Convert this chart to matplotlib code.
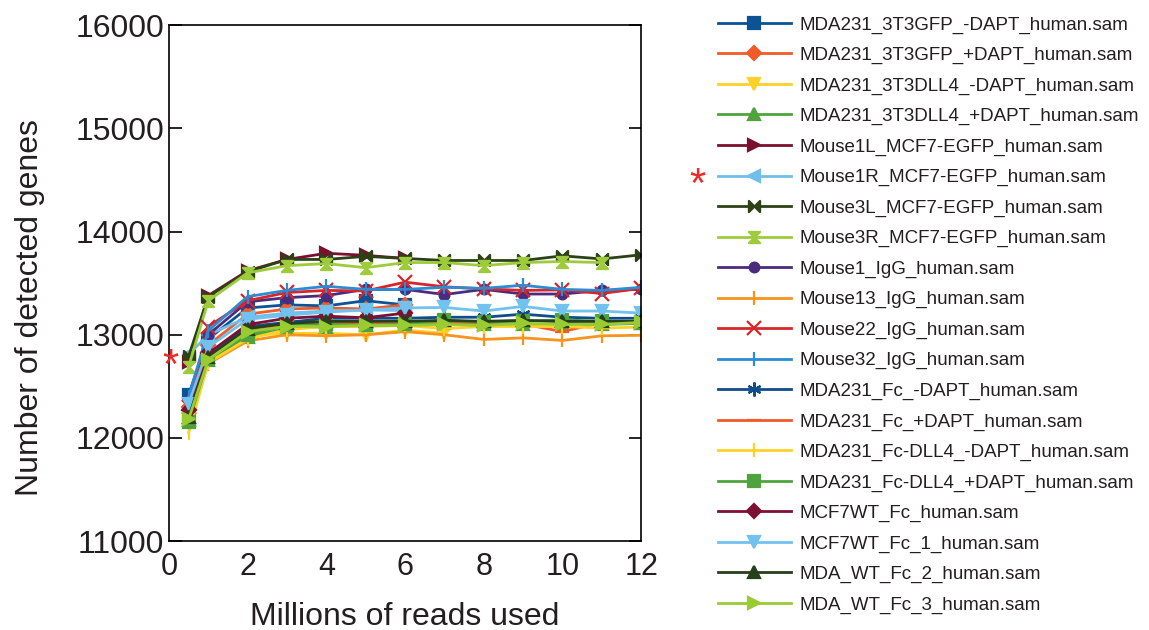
import matplotlib
matplotlib.use("Agg")
import matplotlib.pyplot as plt
from matplotlib.path import Path

plt.rcParams["font.family"] = ["Liberation Sans", "DejaVu Sans"]
TEXT = "#231f20"

# millions of reads used at each subsampling step
reads = [0.5, 1, 2, 3, 4, 5, 6, 7, 8, 9, 10, 11, 12]

sample_names = [
    "MDA231_3T3GFP_-DAPT_human.sam",
    "MDA231_3T3GFP_+DAPT_human.sam",
    "MDA231_3T3DLL4_-DAPT_human.sam",
    "MDA231_3T3DLL4_+DAPT_human.sam",
    "Mouse1L_MCF7-EGFP_human.sam",
    "Mouse1R_MCF7-EGFP_human.sam",
    "Mouse3L_MCF7-EGFP_human.sam",
    "Mouse3R_MCF7-EGFP_human.sam",
    "Mouse1_IgG_human.sam",
    "Mouse13_IgG_human.sam",
    "Mouse22_IgG_human.sam",
    "Mouse32_IgG_human.sam",
    "MDA231_Fc_-DAPT_human.sam",
    "MDA231_Fc_+DAPT_human.sam",
    "MDA231_Fc-DLL4_-DAPT_human.sam",
    "MDA231_Fc-DLL4_+DAPT_human.sam",
    "MCF7WT_Fc_human.sam",
    "MCF7WT_Fc_1_human.sam",
    "MDA_WT_Fc_2_human.sam",
    "MDA_WT_Fc_3_human.sam",
]

# detected genes per sample (shorter libraries stop early)
genes_3t3gfp_minus = [12420, 12960, 13260, 13290, 13280, 13330, 13290]
genes_3t3gfp_plus = [12300, 12900, 13200, 13250, 13260, 13250, 13290]
genes_3t3dll4_minus = [12180, 12740, 12990, 13015, 13015, 13000, 13045, 13015]
genes_3t3dll4_plus = [12170, 12760, 12980, 13060, 13080, 13090, 13090, 13110, 13100, 13100, 13110, 13100, 13110]
genes_mouse1l = [12740, 13380, 13620, 13730, 13790, 13770, 13740]
genes_mouse1r = [12810, 13000, 13170, 13210, 13230, 13240, 13235]
genes_mouse3l = [12790, 13370, 13610, 13730, 13730, 13760, 13740, 13720, 13720, 13720, 13765, 13735, 13775]
genes_mouse3r = [12690, 13330, 13600, 13670, 13690, 13650, 13700, 13700, 13670, 13700, 13710, 13700]
genes_mouse1_igg = [12380, 13000, 13320, 13360, 13380, 13440, 13440, 13390, 13440, 13395, 13395, 13430, 13440]
genes_mouse13_igg = [12150, 12720, 12940, 13000, 12990, 13000, 13030, 13000, 12955, 12970, 12945, 12990, 12995]
genes_mouse22_igg = [12300, 13080, 13330, 13410, 13430, 13425, 13510, 13465, 13445, 13430, 13435, 13400, 13450]
genes_mouse32_igg = [12400, 13040, 13370, 13430, 13470, 13440, 13440, 13460, 13450, 13480, 13440, 13430, 13460]
genes_fc_minus = [12250, 12790, 13080, 13120, 13160, 13160, 13160, 13170, 13170, 13200, 13170, 13160, 13160]
genes_fc_plus = [12230, 12770, 13050, 13090, 13110, 13110, 13100, 13120, 13115, 13105, 13030, 13120, 13125]
genes_fcdll4_minus = [12050, 12730, 12960, 13050, 13080, 13080, 13090, 13060, 13080, 13080, 13080, 13065, 13075]
genes_fcdll4_plus = [12150, 12770, 13000, 13090, 13100, 13090, 13100, 13140, 13120, 13130, 13145, 13130, 13115]
genes_mcf7wt_fc = [12270, 12820, 13100, 13160, 13180, 13165, 13210]
genes_mcf7wt_fc_1 = [12330, 12880, 13150, 13190, 13220, 13240, 13260, 13265, 13230, 13275, 13230, 13230, 13210]
genes_mda_wt_fc_2 = [12200, 12780, 13060, 13110, 13130, 13130, 13130, 13140, 13130, 13140, 13130, 13130, 13130]
genes_mda_wt_fc_3 = [12180, 12760, 13030, 13080, 13080, 13090, 13090, 13100, 13090, 13110, 13100, 13100, 13120]

all_genes = [
    genes_3t3gfp_minus, genes_3t3gfp_plus, genes_3t3dll4_minus, genes_3t3dll4_plus,
    genes_mouse1l, genes_mouse1r, genes_mouse3l, genes_mouse3r,
    genes_mouse1_igg, genes_mouse13_igg, genes_mouse22_igg, genes_mouse32_igg,
    genes_fc_minus, genes_fc_plus, genes_fcdll4_minus, genes_fcdll4_plus,
    genes_mcf7wt_fc, genes_mcf7wt_fc_1, genes_mda_wt_fc_2, genes_mda_wt_fc_3,
]

# two triangles meeting at their tips
bowtie = Path([(-1, 1), (0, 0), (-1, -1), (-1, 1), (1, 1), (0, 0), (1, -1), (1, 1)],
              [Path.MOVETO, Path.LINETO, Path.LINETO, Path.CLOSEPOLY,
               Path.MOVETO, Path.LINETO, Path.LINETO, Path.CLOSEPOLY])
hourglass = Path([(-1, 1), (1, 1), (0, 0), (-1, 1), (-1, -1), (1, -1), (0, 0), (-1, -1)],
                 [Path.MOVETO, Path.LINETO, Path.LINETO, Path.CLOSEPOLY,
                  Path.MOVETO, Path.LINETO, Path.LINETO, Path.CLOSEPOLY])

styles = [
    ("#0b5394", "s"), ("#f15a29", "D"), ("#fdd128", "v"), ("#4fa33d", "^"),
    ("#7b0f2e", ">"), ("#6fbfea", "<"), ("#2b4217", bowtie), ("#9dcb3c", hourglass),
    ("#4a2c7e", "o"), ("#f7941d", "|"), ("#d7262b", "x"), ("#2d8bd3", "|"),
    ("#0f4c8a", (6, 2, 0)), ("#f15a29", "_"), ("#fdd128", "|"), ("#4fa33d", "s"),
    ("#7b1232", "D"), ("#71c2ee", "v"), ("#25401a", "^"), ("#99cc33", ">"),
]

fig = plt.figure(figsize=(11.49, 6.3), dpi=100)
ax = fig.add_axes([0.147, 0.141, 0.411, 0.819])

for name, genes, (color, marker) in zip(sample_names, all_genes, styles):
    ms = 7 if marker in ("D", "o") else 8
    if marker in ("|", "_", "x", (6, 2, 0)):
        ms = 10
    ax.plot(reads[:len(genes)], genes, color=color, marker=marker, ms=ms, lw=2,
            mew=1.6, mec=color, mfc=color, label=name)

ax.set_xlim(0, 12)
ax.set_ylim(11000, 16000)
ax.set_xticks([0, 2, 4, 6, 8, 10, 12])
ax.set_yticks([11000, 12000, 13000, 14000, 15000, 16000])
ax.tick_params(axis="both", direction="in", length=9, width=1.2, labelsize=23,
               labelcolor=TEXT, right=True, top=False)
ax.tick_params(axis="x", length=0, pad=8, labelsize=22)
for spine in ax.spines.values():
    spine.set_linewidth(1.2)
ax.set_xlabel("Millions of reads used", fontsize=23, labelpad=14, color=TEXT)
ax.set_ylabel("Number of detected genes", fontsize=23, color=TEXT)
ax.yaxis.set_label_coords(-0.262, 0.452)

ax.legend(loc="center left", bbox_to_anchor=(0.618, 0.5), bbox_transform=fig.transFigure,
          frameon=False, fontsize=13.5, handlelength=3.9, handletextpad=0.48,
          labelspacing=0.705, borderaxespad=0, labelcolor=TEXT)

# flag the Mouse1R library
fig.text(0.148, 0.4175, "*", color="#ee2a2a", fontsize=30, ha="center", va="center")
fig.text(0.6066, 0.705, "*", color="#ee2a2a", fontsize=30, ha="center", va="center")

fig.savefig("out.png", dpi=100)
